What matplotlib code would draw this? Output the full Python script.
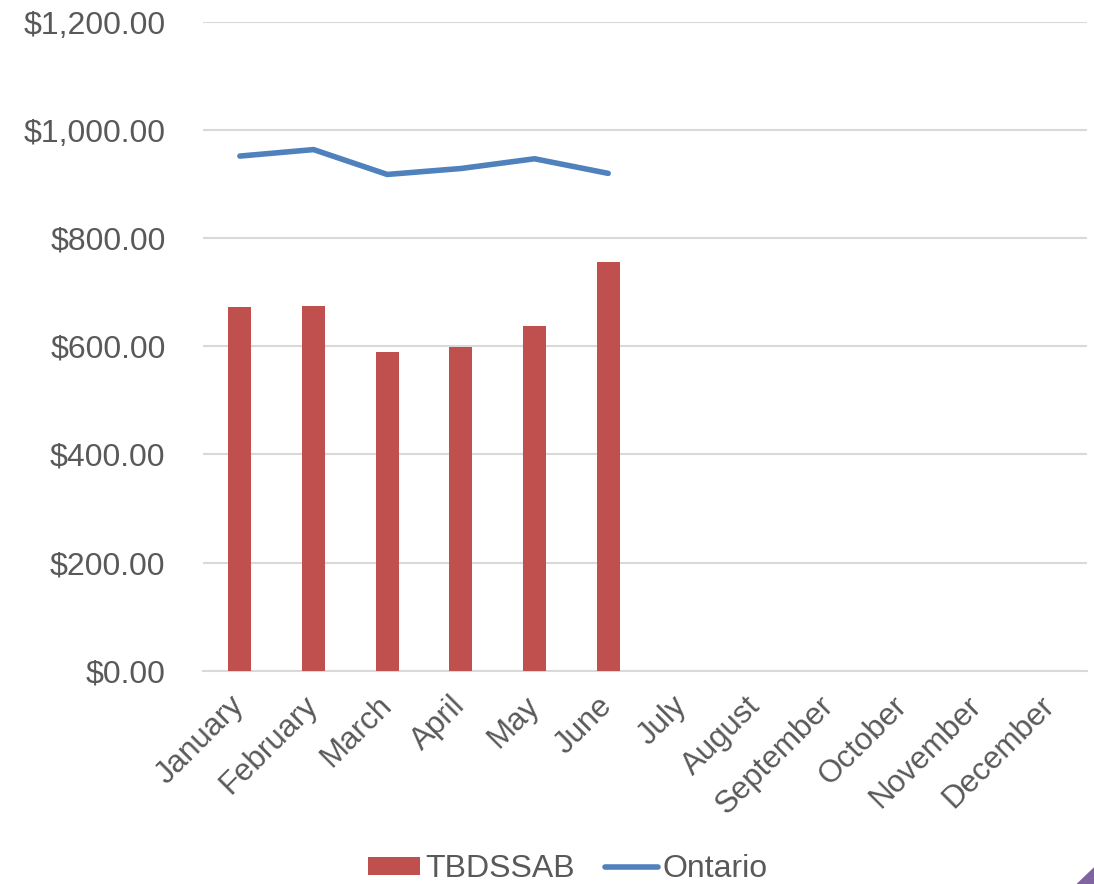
import matplotlib
matplotlib.use("Agg")
import matplotlib.pyplot as plt
from matplotlib.patches import Polygon
from matplotlib.ticker import FuncFormatter
import numpy as np

months = ["January", "February", "March", "April", "May", "June", "July",
          "August", "September", "October", "November", "December"]
tbdssab = [673, 675, 589, 599, 638, 756]
ontario = [952, 964, 918, 929, 947, 920]
y_ticks = [0, 200, 400, 600, 800, 1000, 1200]

plt.rcParams["font.family"] = ["Liberation Sans", "DejaVu Sans"]
text_color = "#595959"
grid_color = "#d9d9d9"

fig = plt.figure(figsize=(10.94, 8.84), dpi=100)
ax = fig.add_axes([0.1856, 0.2413, 0.808, 0.7338])

x = np.arange(len(months))
bars = ax.bar(x[:len(tbdssab)], tbdssab, width=0.31, color="#c0504d",
              label="TBDSSAB", zorder=3)
line, = ax.plot(x[:len(ontario)], ontario, color="#4f81bd", linewidth=4.0,
                solid_capstyle="round", solid_joinstyle="round", label="Ontario",
                zorder=4)

ax.set_xlim(-0.5, len(months) - 0.5)
ax.set_ylim(0, 1200)
ax.set_yticks(y_ticks)
ax.yaxis.set_major_formatter(FuncFormatter(lambda v, p: f"${v:,.2f}"))
ax.set_xticks(x)
ax.set_xticklabels(months, rotation=45, ha="right", va="center", rotation_mode="anchor")

ax.grid(axis="y", color=grid_color, linewidth=1.5, zorder=0)
ax.set_axisbelow(True)
for side in ["top", "right", "left"]:
    ax.spines[side].set_visible(False)
ax.spines["bottom"].set_color(grid_color)
ax.spines["bottom"].set_linewidth(1.5)
ax.tick_params(axis="both", length=0, colors=text_color)
ax.tick_params(axis="y", labelsize=23, pad=27)
ax.tick_params(axis="x", labelsize=22.5, pad=22)

leg = fig.legend(handles=[bars, line], labels=["TBDSSAB", "Ontario"],
                 loc="lower center", bbox_to_anchor=(0.519, -0.033), ncol=2,
                 frameon=False, fontsize=23, handlelength=1.65, handleheight=0.45,
                 handletextpad=0.15, columnspacing=0.95)
for t in leg.get_texts():
    t.set_color(text_color)

fig.patches.append(Polygon([[1.0, 0.0], [1.0, 0.019], [0.984, 0.0]], closed=True,
                           transform=fig.transFigure, facecolor="#8064a2",
                           edgecolor="none"))

fig.savefig("out.png", dpi=100)
